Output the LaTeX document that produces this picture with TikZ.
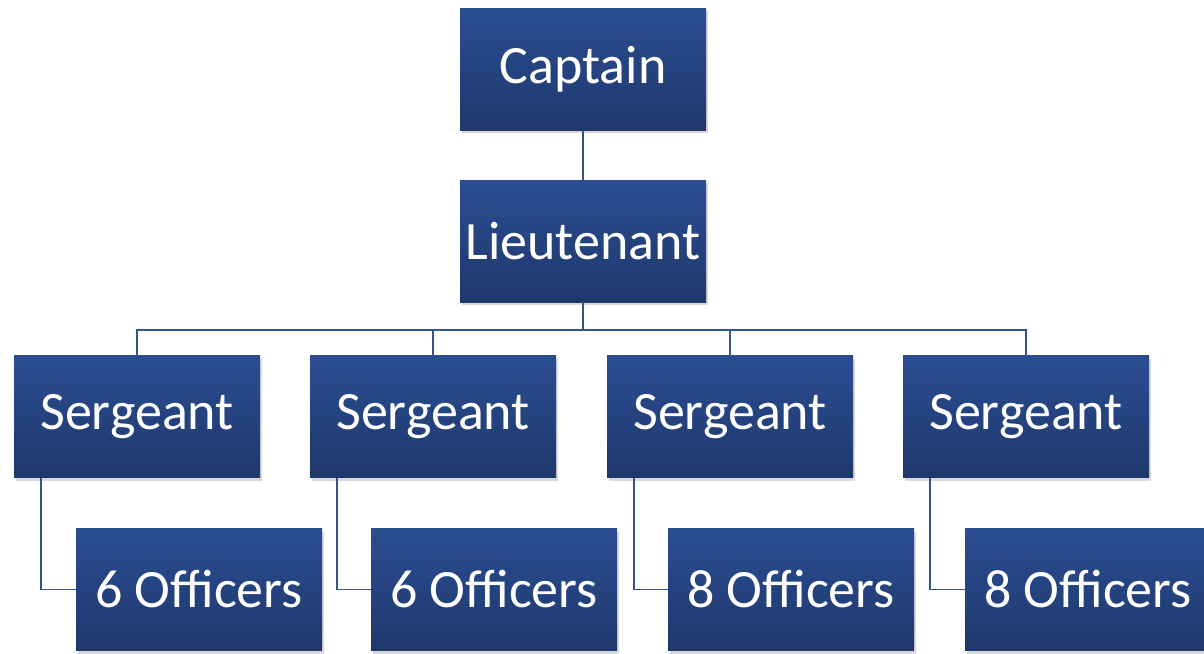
\documentclass[tikz,border=0pt]{standalone}
\usepackage{fontspec}
\setmainfont{Carlito}
\usetikzlibrary{shadows}
\definecolor{boxtop}{HTML}{2A4D92}
\definecolor{boxbot}{HTML}{1F386C}
\definecolor{linkcol}{HTML}{34548C}
\begin{document}
\begin{tikzpicture}[x=1pt,y=-1pt,
    rank/.style ={rectangle, top color=boxtop, bottom color=boxbot,
      minimum width=246pt, minimum height=122pt, inner sep=0pt,
      text=white, font=\fontsize{54}{60}\selectfont,
      drop shadow={shadow xshift=2pt, shadow yshift=-3pt, opacity=0.3}},
    link/.style ={draw=linkcol, line width=1.6pt}]
   \useasboundingbox (0,0) rectangle (1204,653);
   \node[rank] (cap) at (583,69)  {Captain};
   \node[rank] (lt)  at (583,241) {Lieutenant};
   \coordinate (bus) at (583,330);

   \node[rank] (s1) at (137,416.5)  {Sergeant};
   \node[rank] (s2) at (433,416.5)  {Sergeant};
   \node[rank] (s3) at (730,416.5)  {Sergeant};
   \node[rank] (s4) at (1026,416.5) {Sergeant};

   \node[rank] (o1) at (199,589.5)  {6 Officers};
   \node[rank] (o2) at (494,589.5)  {6 Officers};
   \node[rank] (o3) at (791,589.5)  {8 Officers};
   \node[rank] (o4) at (1088,589.5) {8 Officers};

   \draw[link] (cap) to (lt);
   \draw[link] (lt) to (bus);
   \draw[link] (bus) -| (s1.north);
   \draw[link] (bus) -| (s2.north);
   \draw[link] (bus) -| (s3.north);
   \draw[link] (bus) -| (s4.north);

   \draw[link] ([xshift=27pt]s1.south west) |- (o1.west);
   \draw[link] ([xshift=27pt]s2.south west) |- (o2.west);
   \draw[link] ([xshift=27pt]s3.south west) |- (o3.west);
   \draw[link] ([xshift=27pt]s4.south west) |- (o4.west);
 \end{tikzpicture}
\end{document}
